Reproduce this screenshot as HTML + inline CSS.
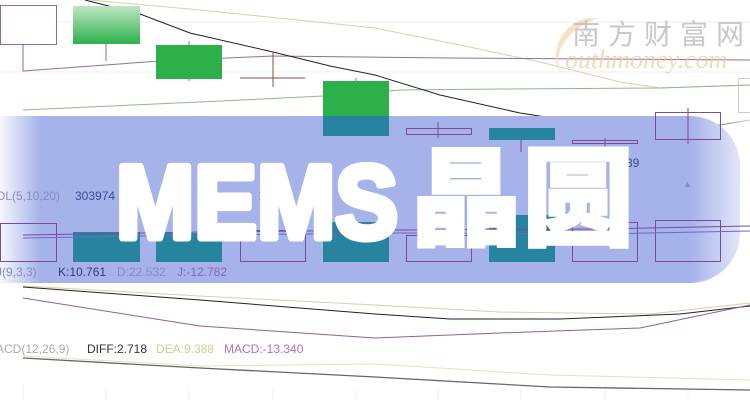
<!DOCTYPE html>
<html><head><meta charset="utf-8"><style>
html,body{margin:0;padding:0;background:#fff;}
svg{display:block}
</style></head><body>
<svg width="750" height="400" viewBox="0 0 750 400" xmlns="http://www.w3.org/2000/svg">
<defs>
<linearGradient id="g1" x1="0" y1="0" x2="0" y2="1"><stop offset="0" stop-color="#bfe6c3"/><stop offset="1" stop-color="#2db04a"/></linearGradient>
<linearGradient id="fadeL" x1="0" y1="0" x2="1" y2="0"><stop offset="0" stop-color="#fff" stop-opacity="0.9"/><stop offset="1" stop-color="#fff" stop-opacity="0"/></linearGradient>
<linearGradient id="fadeR" x1="0" y1="0" x2="1" y2="0"><stop offset="0" stop-color="#fff" stop-opacity="0"/><stop offset="1" stop-color="#fff" stop-opacity="0.8"/></linearGradient>
</defs>
<g stroke="#eeeeee" stroke-width="1">
<line x1="0" y1="22" x2="750" y2="22"/><line x1="0" y1="72" x2="750" y2="72"/>
<line x1="23" y1="385" x2="23" y2="400"/><line x1="106" y1="390" x2="106" y2="400"/><line x1="189" y1="390" x2="189" y2="400"/><line x1="273" y1="390" x2="273" y2="400"/><line x1="356" y1="390" x2="356" y2="400"/><line x1="438" y1="390" x2="438" y2="400"/><line x1="521" y1="390" x2="521" y2="400"/><line x1="605" y1="390" x2="605" y2="400"/><line x1="688" y1="390" x2="688" y2="400"/>
</g>
<polyline fill="none" stroke="#d8cfa8" stroke-width="1" points="90,0 200,10 375,28 460,45 540,62 620,82 660,88 750,85"/>
<polyline fill="none" stroke="#9a6a9a" stroke-width="1" points="23,71 160,61 273,56 450,58 750,60"/>
<polyline fill="none" stroke="#8ab88a" stroke-width="1" points="23,110 200,102 323,96 400,90 500,89 660,88 750,85"/>
<polyline fill="none" stroke="#222" stroke-width="1" points="85,0 140,14 190,33 273,52 330,66 375,75 440,95 520,113 610,127 680,131 720,125 750,120"/>
<g stroke="#9a6a8a" stroke-width="1" fill="none">
<rect x="0.5" y="5.5" width="56" height="39" fill="#fff"/><line x1="23" y1="44" x2="23" y2="71"/>
<line x1="106" y1="44" x2="106" y2="61"/>
<line x1="189" y1="41" x2="189" y2="81"/>
<line x1="240" y1="78" x2="305" y2="78" stroke="#8a4a4a"/><line x1="273" y1="52" x2="273" y2="87" stroke="#8a4a4a"/>
<line x1="356" y1="78" x2="356" y2="82"/>
</g>
<rect x="73" y="6" width="67" height="38" fill="url(#g1)"/>
<rect x="156" y="45" width="66" height="34" fill="#2db04a"/>
<rect x="323" y="81" width="66" height="36" fill="#2db04a"/>
<path d="M0 116 H690 A50 50 0 0 1 740 166 V233 A50 50 0 0 1 690 283 H0 Z" fill="#a6b3ea"/>
<rect x="0" y="116" width="40" height="167" fill="url(#fadeL)"/>
<rect x="690" y="116" width="60" height="167" fill="url(#fadeR)"/>
<rect x="323" y="116" width="66" height="20" fill="#27849f"/>
<g stroke="#7a4aa0" stroke-width="1" fill="none">
<rect x="406.5" y="128.5" width="65" height="6"/><line x1="438" y1="122" x2="438" y2="138"/>
<line x1="521" y1="140" x2="521" y2="152"/>
<rect x="572.5" y="140.5" width="65" height="3"/><line x1="605" y1="138" x2="605" y2="152"/>
<rect x="655.5" y="112.5" width="65" height="27"/><line x1="688" y1="108" x2="688" y2="144"/>
<rect x="738.5" y="78.5" width="20" height="34" stroke="#ccc"/>
</g>
<rect x="489" y="128" width="66" height="12" fill="#27849f"/>
<g fill="#27849f">
<rect x="73" y="232" width="67" height="30"/><rect x="156" y="233" width="66" height="29"/>
<rect x="323" y="222" width="66" height="40"/><rect x="489" y="215" width="66" height="47"/>
</g>
<g stroke="#7a4aa0" stroke-width="1" fill="none">
<rect x="0.5" y="223.5" width="56" height="38"/><rect x="240.5" y="230.5" width="65" height="31"/>
<rect x="406.5" y="235.5" width="65" height="26"/><rect x="572.5" y="222.5" width="65" height="39"/>
<rect x="655.5" y="220.5" width="65" height="41"/>
<polyline points="23,235 200,232 400,230 600,229 750,226"/>
<polyline points="23,238 200,235 400,233 600,234 750,231" stroke="#6a6ac0"/>
</g>
<g font-family="Liberation Sans, sans-serif" font-size="12">
<text x="-4" y="200" fill="#8a8ac8">OL(5,10,20)</text>
<text x="75" y="200" fill="#3a4a9a">303974</text>
<text x="198" y="200" fill="#8a8ac8">40</text>
<text x="258" y="200" fill="#8a70d0">17</text>
<text x="358" y="200" fill="#6a6ac0">16</text>
<text x="626" y="167" fill="#3a4a9a">39</text>
<text x="683" y="187" fill="#8a8ac8" font-size="9">▲</text>
<text x="-4" y="276" fill="#8a8ac8">J(9,3,3)</text>
<text x="58" y="276" fill="#3a3a7a">K:10.761</text>
<text x="117" y="276" fill="#8a8ac8">D:22.532</text>
<text x="177" y="276" fill="#8a60c0">J:-12.782</text>
<text x="-4" y="353" fill="#aaa">ACD(12,26,9)</text>
<text x="87" y="353" fill="#333">DIFF:2.718</text>
<text x="156" y="353" fill="#d8c890">DEA:9.388</text>
<text x="224" y="353" fill="#b070c0">MACD:-13.340</text>
</g>
<text x="116" y="238" font-family="Liberation Sans, sans-serif" font-weight="bold" font-size="104" fill="#fff" stroke="#fff" stroke-width="7" stroke-linejoin="round" textLength="282" lengthAdjust="spacingAndGlyphs">MEMS</text>
<text x="410" y="237" font-family="Noto Sans CJK SC, sans-serif" font-weight="900" font-size="108" fill="#fff" stroke="#fff" stroke-width="2.5" textLength="224" lengthAdjust="spacingAndGlyphs">晶圆</text>
<polyline fill="none" stroke="#d8cfa8" points="23,286 200,296 375,305 500,312 650,314 750,303"/>
<polyline fill="none" stroke="#222" points="23,287 200,300 375,314 450,319 560,319 680,314 750,306"/>
<polyline fill="none" stroke="#9a5a9a" points="23,298 200,326 375,338 500,333 640,328 750,305"/>
<polyline fill="none" stroke="#e8e0b8" points="23,356 200,366 375,364 550,375 750,380"/>
<polyline fill="none" stroke="#666" stroke-width="1.3" points="23,358 200,368 375,377 550,387 750,390"/>
<path d="M590 18 C565 20 548 50 560 72 C552 50 570 28 598 18 Z" fill="#f8d8b0" opacity="0.8"/>
<text x="572" y="44" font-family="Noto Sans CJK SC, sans-serif" font-size="28" fill="#bbb" letter-spacing="8" opacity="0.8">南方财富网</text>
<text x="565" y="68" font-family="Liberation Serif, serif" font-style="italic" font-size="26" fill="#f0c898" opacity="0.7">outhmoney.com</text>
</svg>
</body></html>
